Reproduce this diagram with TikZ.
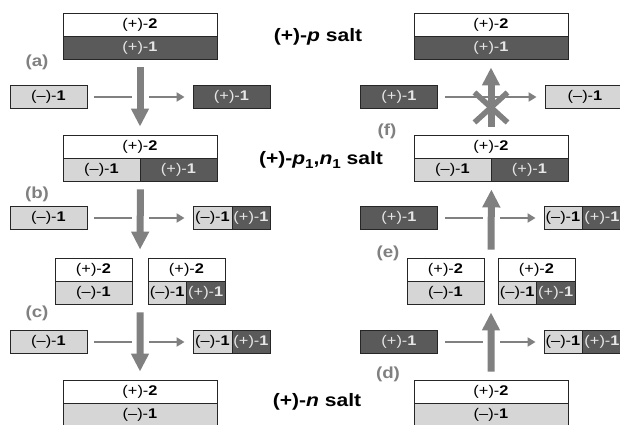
\documentclass[tikz,border=0pt]{standalone}
\usepackage{fontspec}
\setmainfont{Liberation Sans}[FakeStretch=1.17]
\usetikzlibrary{arrows.meta,calc}

\definecolor{darkcell}{HTML}{5A5A5A}
\definecolor{lightcell}{HTML}{D6D6D6}
\definecolor{arrowgray}{HTML}{808080}
\definecolor{celltext}{HTML}{E6E6E6}

\newcommand{\plustwo}{(+)-\textbf{2}}
\newcommand{\plusone}{(+)-\textbf{1}}
\newcommand{\minusone}{(–)-\textbf{1}}
\newcommand{\lowone}{\raisebox{-4pt}{\fontsize{13}{13}\selectfont 1}}

\tikzset{
  cell/.style={draw=black!85, line width=0.9pt, minimum height=23pt,
    inner sep=0pt, anchor=center, font=\fontsize{14}{14}\selectfont},
  wcell/.style={cell, fill=white},
  lcell/.style={cell, fill=lightcell},
  dcell/.style={cell, fill=darkcell, text=celltext},
  thinarrow/.style={draw=arrowgray, line width=2.2pt,
    -{Triangle[length=8pt,width=9pt]}, shorten <=7pt, shorten >=8pt},
  thickarrow/.style={draw=arrowgray, line width=7pt,
    -{Triangle[length=18pt,width=17pt]}, shorten <=8pt, shorten >=8pt},
  knock/.style={draw=white, line width=17pt},
  crossbar/.style={draw=arrowgray, line width=5.5pt},
  steplabel/.style={text=arrowgray, font=\fontsize{16}{16}\selectfont\bfseries},
  saltlabel/.style={font=\fontsize{18}{18}\selectfont\bfseries},
}

\begin{document}
\begin{tikzpicture}[x=1pt, y=-1pt]
\useasboundingbox (0,0) rectangle (620,424);
\clip (0,0) rectangle (620,424);

% ---------------- left column: (+)-p -> (+)-p1,n1 -> (+)-n ----------------
% (+)-p salt
\node[wcell, minimum width=154pt] (Atop) at (140,24.5) {\plustwo};
\node[dcell, minimum width=154pt] (Abot) at (140,47.5) {\plusone};
% step (a)
\node[lcell, minimum width=77pt] (La) at (48.5,97) {\minusone};
\node[dcell, minimum width=77pt] (Ra) at (231.5,97) {\plusone};
% (+)-p1,n1 salt
\node[wcell, minimum width=154pt] (Btop) at (140,146.5) {\plustwo};
\node[lcell, minimum width=77pt] (Bl) at (101.5,169.5) {\minusone};
\node[dcell, minimum width=77pt] (Br) at (178.5,169.5) {\plusone};
% step (b)
\node[lcell, minimum width=77pt] (Lb) at (48.5,218) {\minusone};
\node[lcell, minimum width=39pt] (Rbl) at (212.5,218) {\minusone};
\node[dcell, minimum width=38pt] (Rbr) at (251,218) {\plusone};
% intermediate mixture
\node[wcell, minimum width=77pt] (C1top) at (93.5,269.5) {\plustwo};
\node[lcell, minimum width=77pt] (C1bot) at (93.5,292.5) {\minusone};
\node[wcell, minimum width=77pt] (C2top) at (186.5,269.5) {\plustwo};
\node[lcell, minimum width=38.5pt] (C2l) at (167.25,292.5) {\minusone};
\node[dcell, minimum width=38.5pt] (C2r) at (205.75,292.5) {\plusone};
% step (c)
\node[lcell, minimum width=77pt] (Lc) at (48.5,342) {\minusone};
\node[lcell, minimum width=39pt] (Rcl) at (212.5,342) {\minusone};
\node[dcell, minimum width=38pt] (Rcr) at (251,342) {\plusone};
% (+)-n salt
\node[wcell, minimum width=154pt] (Dtop) at (140,391.5) {\plustwo};
\node[lcell, minimum width=154pt] (Dbot) at (140,414.5) {\minusone};

\coordinate (Cin) at ($(C1top.north east)!0.5!(C2top.north west)$);
\coordinate (Cout) at ($(C1bot.south east)!0.5!(C2l.south west)$);

% horizontal exchange arrows, left column
\draw[thinarrow] (La) -- (Ra);
\draw[thinarrow] (Lb) -- (Rbl);
\draw[thinarrow] (Lc) -- (Rcl);
\foreach \row in {La,Lb,Lc}
  \draw[knock] ($(Abot.south |- \row.east)+(0,-2)$) -- ($(Abot.south |- \row.east)+(0,2)$);
% vertical process arrows, left column
\draw[thickarrow] (Abot.south) -- (Btop.north);
\draw[thickarrow] (Bl.south east) -- (Cin);
\draw[thickarrow] (Cout) -- (Dtop.north);

% ---------------- right column: reverse direction ----------------
% (+)-p salt
\node[wcell, minimum width=154pt] (Etop) at (491,24.5) {\plustwo};
\node[dcell, minimum width=154pt] (Ebot) at (491,47.5) {\plusone};
% step (f)
\node[dcell, minimum width=77pt] (Lf) at (399,97) {\plusone};
\node[lcell, minimum width=80pt] (Rf) at (585,97) {\minusone};
% (+)-p1,n1 salt
\node[wcell, minimum width=154pt] (Ftop) at (491,146.5) {\plustwo};
\node[lcell, minimum width=77pt] (Fl) at (452.5,169.5) {\minusone};
\node[dcell, minimum width=77pt] (Fr) at (529.5,169.5) {\plusone};
% step (e)
\node[dcell, minimum width=77pt] (Le) at (399,218) {\plusone};
\node[lcell, minimum width=38pt] (Rel) at (563,218) {\minusone};
\node[dcell, minimum width=40pt] (Rer) at (602,218) {\plusone};
% intermediate mixture
\node[wcell, minimum width=77pt] (G1top) at (445.5,269.5) {\plustwo};
\node[lcell, minimum width=77pt] (G1bot) at (445.5,292.5) {\minusone};
\node[wcell, minimum width=77pt] (G2top) at (536.5,269.5) {\plustwo};
\node[lcell, minimum width=38.5pt] (G2l) at (517.25,292.5) {\minusone};
\node[dcell, minimum width=38.5pt] (G2r) at (555.75,292.5) {\plusone};
% step (d)
\node[dcell, minimum width=77pt] (Ld) at (399,342) {\plusone};
\node[lcell, minimum width=38pt] (Rdl) at (563,342) {\minusone};
\node[dcell, minimum width=40pt] (Rdr) at (602,342) {\plusone};
% (+)-n salt
\node[wcell, minimum width=154pt] (Htop) at (491,391.5) {\plustwo};
\node[lcell, minimum width=154pt] (Hbot) at (491,414.5) {\minusone};

\coordinate (Gin) at ($(G1bot.south east)!0.5!(G2l.south west)$);
\coordinate (Gout) at ($(G1top.north east)!0.5!(G2top.north west)$);

% horizontal exchange arrows, right column
\draw[thinarrow] (Lf) -- (Rf);
\draw[thinarrow] (Le) -- (Rel);
\draw[thinarrow] (Ld) -- (Rdl);
\foreach \row in {Le,Ld}
  \draw[knock] ($(Ebot.south |- \row.east)+(0,-2)$) -- ($(Ebot.south |- \row.east)+(0,2)$);
% vertical process arrows, right column
\draw[thickarrow] (Htop.north) -- (Gin);
\draw[thickarrow] (Gout) -- (Fl.south east);
\draw[thickarrow] (Ftop.north) -- (Ebot.south);
% step (f) does not take place
\coordinate (X) at ($(Ebot.south)+(0,48)$);
\draw[crossbar] ($(X)+(-16.5,-15)$) -- ($(X)+(16.5,15)$);
\draw[crossbar] ($(X)+(16.5,-15)$) -- ($(X)+(-16.5,15)$);

% ---------------- labels ----------------
\node[steplabel] (la) at (37,62) {(a)};
\node[steplabel] (lb) at (37,194) {(b)};
\node[steplabel] (lc) at (37,313) {(c)};
\node[steplabel] (ld) at (388,374) {(d)};
\node[steplabel] (le) at (388,253) {(e)};
\node[steplabel] (lf) at (387,131) {(f)};

\node[saltlabel] (sp) at (318,37) {(+)-\textit{p} salt};
\node[saltlabel] (spn) at (321,160) {(+)-\textit{p}\lowone,\textit{n}\lowone{} salt};
\node[saltlabel] (sn) at (317,402) {(+)-\textit{n} salt};
\end{tikzpicture}
\end{document}
